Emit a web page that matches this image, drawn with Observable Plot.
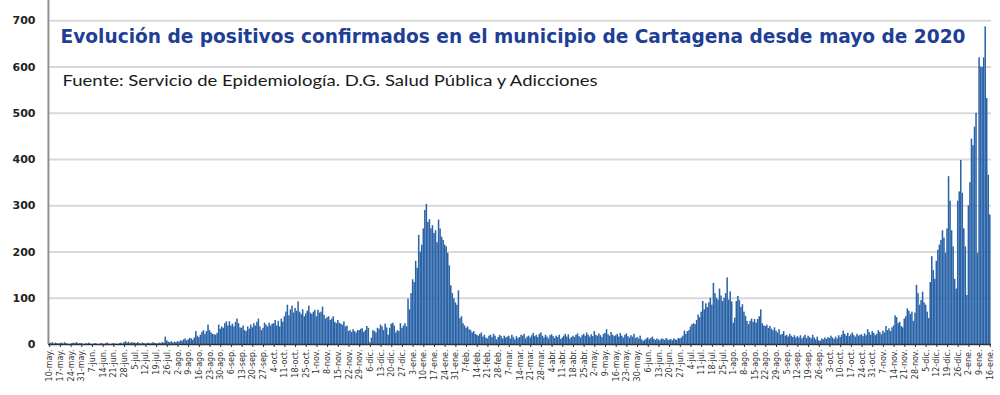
<!DOCTYPE html>
<html>
<head>
<meta charset="utf-8">
<script src="https://cdn.jsdelivr.net/npm/d3@7"></script>
<script src="https://cdn.jsdelivr.net/npm/@observablehq/plot@0.6"></script>
<style>
  html, body { margin: 0; padding: 0; background: #fff; }
  #chart svg { display: block; }
</style>
</head>
<body>
<div id="chart"></div>
<script>
// ---- Data (daily confirmed positives, starting 10-may-2020) ----
const inicio = "2020-05-10";
const meses = ["ene","feb","mar","abr","may","jun","jul","ago","sep","oct","nov","dic"];
const casos = [
  3,2,4,1,3,2,1,  2,3,1,4,2,1,0,  1,2,3,2,4,1,2,  2,1,0,2,1,3,1,
  0,1,2,1,0,1,2,  1,0,2,3,1,0,1,  2,1,1,0,2,3,1,  4,6,3,5,2,4,3,
  3,2,4,2,1,3,2,  1,2,3,1,2,4,2,  2,1,3,2,4,3,16, 8,5,4,6,3,5,4,
  6,5,8,7,10,12,8, 10,13,12,9,14,28,18, 15,20,26,30,22,28,42, 30,25,22,21,20,24,42,
  33,38,35,45,49,40,49, 40,44,38,48,55,45,36, 35,40,30,28,38,33,42, 36,45,40,48,55,38,30,
  35,46,42,38,46,40,44, 45,52,40,50,38,55,48, 60,70,85,62,75,83,68, 78,72,92,70,65,75,60,
  66,72,83,68,65,70,74, 60,74,68,70,81,63,55, 58,60,52,55,60,48,45, 52,46,44,42,49,38,40,
  28,30,26,32,28,25,30, 30,33,34,26,30,39,35, 4,14,30,28,25,35,33, 42,38,30,44,36,20,35,
  44,46,40,25,30,28,45, 35,40,45,38,98,75,110, 140,134,180,165,236,200,215, 250,290,303,264,270,250,257,
  240,246,220,269,250,232,225, 215,211,197,170,127,110,99, 90,85,116,56,60,45,40, 35,38,32,30,25,28,22,
  20,18,22,25,16,20,14, 12,18,20,15,22,18,10, 15,20,17,12,18,14,16, 18,12,20,15,10,17,13,
  15,20,18,22,12,16,18, 14,19,24,17,20,15,22, 25,18,14,20,16,12,19, 21,17,13,18,15,20,11,
  14,18,22,16,21,12,15, 18,15,20,23,17,14,19, 22,18,25,20,16,21,17, 28,20,18,23,19,15,22,
  24,32,21,18,26,20,17, 19,22,16,24,18,14,20, 23,17,14,19,16,22,13, 15,12,18,10,7,9,12,
  14,10,13,16,11,9,12, 10,8,12,11,9,13,10, 9,11,8,12,10,9,13, 12,14,18,29,22,28,30,
  38,43,45,43,52,64,58, 70,93,75,88,80,90,100, 85,132,110,100,96,120,105, 93,100,110,144,96,114,92,
  46,57,93,104,95,80,86, 70,61,50,43,50,55,48, 54,46,54,60,75,45,40, 39,42,35,39,33,30,36,
  29,25,32,20,22,28,18, 20,16,22,18,15,19,14, 17,14,19,12,16,20,13, 18,15,12,20,14,10,16,
  8,7,12,10,14,11,15, 13,18,14,11,16,12,19, 15,20,29,22,18,24,17, 21,25,19,16,22,18,20,
  21,17,23,19,32,26,20, 28,24,19,22,30,26,21, 29,25,39,30,34,28,36, 40,62,58,45,48,39,36,
  55,60,77,72,65,70,50, 68,128,110,85,95,113,90, 85,70,56,134,190,160,141, 180,204,215,225,246,230,197,
  250,363,310,246,211,141,120, 310,330,398,327,250,211,106, 300,350,444,430,470,500,197, 620,600,599,620,687,532,366,
  280
];
const yTicks = [0,100,200,300,400,500,600,700];
const titulo = "Evolución de positivos confirmados en el municipio de Cartagena desde mayo de 2020";
const fuente = "Fuente: Servicio de Epidemiología. D.G. Salud Pública y Adicciones";

// ---- Derived ----
const t0 = new Date(inicio + "T00:00:00Z");
const dias = casos.map((v, i) => ({i, v}));
const xTicks = dias.filter(d => d.i % 7 === 0).map(d => d.i);
function etiqueta(i) {
  const dt = new Date(t0.getTime() + i * 86400000);
  return dt.getUTCDate() + "-" + meses[dt.getUTCMonth()] + ".";
}

const chart = Plot.plot({
  width: 1000,
  height: 395,
  marginLeft: 48,
  marginRight: 9,
  marginTop: 0,
  marginBottom: 51,
  style: {background: "#fff", color: "#222"},
  x: {type: "band", domain: dias.map(d => d.i), paddingInner: 0, paddingOuter: 0.3, axis: null, label: null},
  y: {domain: [0, 744], axis: null, label: null},
  marks: [
    Plot.ruleY(yTicks.slice(1), {stroke: "#d9d9d9", strokeWidth: 2}),
    Plot.barY(dias, {x: "i", y: "v", fill: "#2a63a8"}),
    Plot.ruleY([0], {stroke: "#333", strokeWidth: 1.5}),
    Plot.ruleX([0], {dx: -1.3, stroke: "#8f8f8f", strokeWidth: 2}),
    Plot.axisY({ticks: yTicks, label: null, tickSize: 0, tickPadding: 13, fontSize: 11, fontWeight: "bold", fontFamily: "DejaVu Sans", fill: "#222"}),
    Plot.axisX({ticks: xTicks, label: null, tickFormat: etiqueta, tickRotate: -90, tickSize: 3, tickPadding: 2, fontSize: 8, fontFamily: "DejaVu Sans", fill: "#333", stroke: "#333"}),
    Plot.text([titulo], {frameAnchor: "top-left", text: d => d, dx: 12, dy: 36, lineAnchor: "middle", fontSize: 20, fontWeight: "bold", fontFamily: "DejaVu Sans Condensed", fill: "#1f3f97"}),
    Plot.text([fuente], {frameAnchor: "top-left", text: d => d, dx: 14, dy: 81, lineAnchor: "middle", fontSize: 15, fontFamily: "Lato", fill: "#1a1a1a"})
  ]
});

d3.select(chart).selectAll("text").each(function() {
  const t = this.textContent;
  if (t === titulo) { this.setAttribute("textLength", 905); this.setAttribute("lengthAdjust", "spacingAndGlyphs"); }
  if (t === fuente) { this.setAttribute("textLength", 535); this.setAttribute("lengthAdjust", "spacingAndGlyphs"); }
});

document.getElementById("chart").appendChild(chart);
</script>
</body>
</html>
